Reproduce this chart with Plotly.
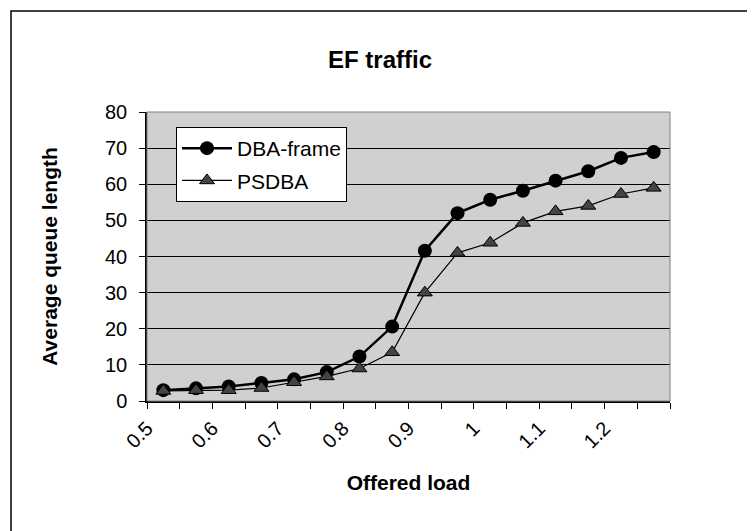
import plotly.graph_objects as go

# offered load (centre of each load interval) and average queue lengths
loads = [0.525, 0.575, 0.625, 0.675, 0.725, 0.775, 0.825, 0.875,
         0.925, 0.975, 1.025, 1.075, 1.125, 1.175, 1.225, 1.275]
dba_frame = [3.0, 3.5, 4.0, 5.0, 6.0, 8.0, 12.3, 20.6,
             41.6, 52.0, 55.7, 58.2, 61.0, 63.6, 67.3, 68.9]
psdba = [2.8, 3.0, 3.0, 3.6, 5.2, 6.8, 9.0, 13.5,
         30.0, 41.0, 43.8, 49.3, 52.5, 54.0, 57.3, 59.0]

tick_vals = [0.5, 0.6, 0.7, 0.8, 0.9, 1.0, 1.1, 1.2]
tick_text = ["0.5", "0.6", "0.7", "0.8", "0.9", "1", "1.1", "1.2"]

W, H = 755, 531
ML, MR, MT, MB = 139, 93, 104, 138
pw, ph = W - ML - MR, H - MT - MB

fig = go.Figure()
fig.add_trace(go.Scatter(
    x=loads, y=dba_frame, name="DBA-frame", mode="lines+markers",
    legendgroup="a",
    line=dict(color="black", width=2.5),
    marker=dict(symbol="circle", size=14, color="black"),
))
fig.add_trace(go.Scatter(
    x=loads, y=psdba, name="PSDBA", mode="lines+markers",
    legendgroup="b",
    line=dict(color="black", width=1.2),
    marker=dict(symbol="triangle-up", size=13, color="#444444",
                line=dict(color="black", width=1)),
))

# outer chart frame
fig.add_shape(type="rect", xref="paper", yref="paper",
              x0=(3 - ML) / pw, x1=(752 - ML) / pw,
              y0=-(528 - MT - ph) / ph, y1=1 + (MT - 3) / ph,
              line=dict(color="black", width=1.5))
# plot area border
fig.add_shape(type="rect", xref="paper", yref="paper", x0=0, x1=1, y0=0, y1=1,
              line=dict(color="#808080", width=1))

fig.update_layout(
    width=W, height=H,
    margin=dict(l=ML, r=MR, t=MT, b=MB),
    paper_bgcolor="white",
    plot_bgcolor="#d0d0d0",
    font=dict(family="Arial", color="black", size=20),
    title=dict(text="EF traffic", x=(372 / W), xanchor="center",
               y=1 - 52 / H, yanchor="middle",
               font=dict(size=24, weight="bold")),
    showlegend=True,
    legend=dict(x=(168 - ML) / pw, y=(MT + ph - 119) / ph,
                xanchor="left", yanchor="top",
                bgcolor="white", bordercolor="black", borderwidth=1,
                font=dict(size=21), tracegroupgap=2, itemwidth=50),
)
fig.update_xaxes(
    range=[0.5, 1.3], tickvals=tick_vals, ticktext=tick_text,
    tickangle=-45, ticks="outside", ticklen=6, tickcolor="black",
    minor=dict(dtick=0.05, tick0=0.5, ticks="outside", ticklen=6,
               tickcolor="black", showgrid=False),
    showgrid=False, zeroline=False,
    showline=True, linecolor="black", linewidth=1.5,
    title=dict(text="Offered load", font=dict(size=21, weight="bold"),
               standoff=24),
    tickfont=dict(size=20),
)
fig.update_yaxes(
    range=[0, 80], dtick=10, ticks="outside", ticklen=6, tickcolor="black",
    ticklabelstandoff=8,
    showgrid=True, gridcolor="black", gridwidth=1, zeroline=False,
    showline=True, linecolor="black", linewidth=1.5,
    title=dict(text="Average queue length", font=dict(size=21, weight="bold"),
               standoff=42),
    tickfont=dict(size=20),
)

fig.write_html("out.html")
